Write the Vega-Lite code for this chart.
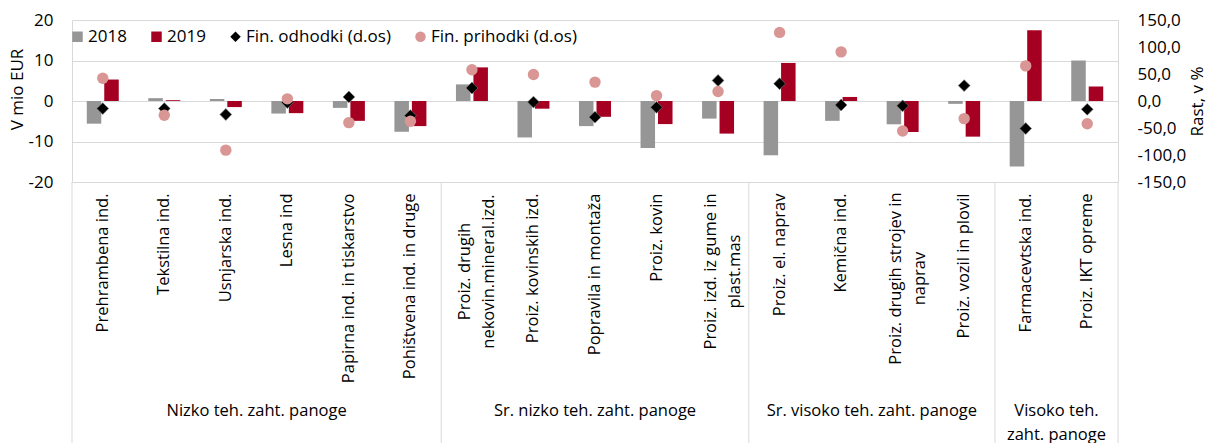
{
  "$schema": "https://vega.github.io/schema/vega-lite/v6.json",
  "width": 1046,
  "height": 162,
  "autosize": {"type": "none"},
  "padding": {"left": 72, "top": 20, "right": 89, "bottom": 261},
  "background": "white",
  "config": {
    "font": "Open Sans",
    "view": {"stroke": null},
    "axis": {"labelColor": "#000000", "titleColor": "#000000", "titleFontWeight": "normal"}
  },
  "datasets": {
    "bars": [
      {"cat": "Prehrambena ind.", "series": "2018", "value": -5.6},
      {"cat": "Prehrambena ind.", "series": "2019", "value": 5.3},
      {"cat": "Tekstilna ind.", "series": "2018", "value": 0.7},
      {"cat": "Tekstilna ind.", "series": "2019", "value": 0.2},
      {"cat": "Usnjarska ind.", "series": "2018", "value": 0.5},
      {"cat": "Usnjarska ind.", "series": "2019", "value": -1.5},
      {"cat": "Lesna ind", "series": "2018", "value": -3.1},
      {"cat": "Lesna ind", "series": "2019", "value": -3.0},
      {"cat": "Papirna ind. in tiskarstvo", "series": "2018", "value": -1.7},
      {"cat": "Papirna ind. in tiskarstvo", "series": "2019", "value": -4.9},
      {"cat": "Pohištvena ind. in druge", "series": "2018", "value": -7.6},
      {"cat": "Pohištvena ind. in druge", "series": "2019", "value": -6.2},
      {"cat": "Proiz. drugih\nnekovin.mineral.izd.", "series": "2018", "value": 4.1},
      {"cat": "Proiz. drugih\nnekovin.mineral.izd.", "series": "2019", "value": 8.3},
      {"cat": "Proiz. kovinskih izd.", "series": "2018", "value": -9.0},
      {"cat": "Proiz. kovinskih izd.", "series": "2019", "value": -1.9},
      {"cat": "Popravila in montaža", "series": "2018", "value": -6.2},
      {"cat": "Popravila in montaža", "series": "2019", "value": -3.9},
      {"cat": "Proiz. kovin", "series": "2018", "value": -11.6},
      {"cat": "Proiz. kovin", "series": "2019", "value": -5.7},
      {"cat": "Proiz. izd. iz gume in\nplast.mas", "series": "2018", "value": -4.35},
      {"cat": "Proiz. izd. iz gume in\nplast.mas", "series": "2019", "value": -8.05},
      {"cat": "Proiz. el. naprav", "series": "2018", "value": -13.4},
      {"cat": "Proiz. el. naprav", "series": "2019", "value": 9.4},
      {"cat": "Kemična ind.", "series": "2018", "value": -4.9},
      {"cat": "Kemična ind.", "series": "2019", "value": 1.0},
      {"cat": "Proiz. drugih strojev in\nnaprav", "series": "2018", "value": -5.75},
      {"cat": "Proiz. drugih strojev in\nnaprav", "series": "2019", "value": -7.65},
      {"cat": "Proiz. vozil in plovil", "series": "2018", "value": -0.7},
      {"cat": "Proiz. vozil in plovil", "series": "2019", "value": -8.8},
      {"cat": "Farmacevtska ind.", "series": "2018", "value": -16.2},
      {"cat": "Farmacevtska ind.", "series": "2019", "value": 17.5},
      {"cat": "Proiz. IKT opreme", "series": "2018", "value": 10.0},
      {"cat": "Proiz. IKT opreme", "series": "2019", "value": 3.55}
    ],
    "points": [
      {"cat": "Prehrambena ind.", "series": "Fin. odhodki (d.os)", "rast": -14},
      {"cat": "Tekstilna ind.", "series": "Fin. odhodki (d.os)", "rast": -14},
      {"cat": "Usnjarska ind.", "series": "Fin. odhodki (d.os)", "rast": -25},
      {"cat": "Lesna ind", "series": "Fin. odhodki (d.os)", "rast": -3},
      {"cat": "Papirna ind. in tiskarstvo", "series": "Fin. odhodki (d.os)", "rast": 7.5},
      {"cat": "Pohištvena ind. in druge", "series": "Fin. odhodki (d.os)", "rast": -27},
      {"cat": "Proiz. drugih\nnekovin.mineral.izd.", "series": "Fin. odhodki (d.os)", "rast": 24},
      {"cat": "Proiz. kovinskih izd.", "series": "Fin. odhodki (d.os)", "rast": -2},
      {"cat": "Popravila in montaža", "series": "Fin. odhodki (d.os)", "rast": -30},
      {"cat": "Proiz. kovin", "series": "Fin. odhodki (d.os)", "rast": -11.7},
      {"cat": "Proiz. izd. iz gume in\nplast.mas", "series": "Fin. odhodki (d.os)", "rast": 38},
      {"cat": "Proiz. el. naprav", "series": "Fin. odhodki (d.os)", "rast": 32},
      {"cat": "Kemična ind.", "series": "Fin. odhodki (d.os)", "rast": -7.4},
      {"cat": "Proiz. drugih strojev in\nnaprav", "series": "Fin. odhodki (d.os)", "rast": -9},
      {"cat": "Proiz. vozil in plovil", "series": "Fin. odhodki (d.os)", "rast": 28.5},
      {"cat": "Farmacevtska ind.", "series": "Fin. odhodki (d.os)", "rast": -51},
      {"cat": "Proiz. IKT opreme", "series": "Fin. odhodki (d.os)", "rast": -15.4},
      {"cat": "Prehrambena ind.", "series": "Fin. prihodki (d.os)", "rast": 42},
      {"cat": "Tekstilna ind.", "series": "Fin. prihodki (d.os)", "rast": -26.5},
      {"cat": "Usnjarska ind.", "series": "Fin. prihodki (d.os)", "rast": -91},
      {"cat": "Lesna ind", "series": "Fin. prihodki (d.os)", "rast": 4},
      {"cat": "Papirna ind. in tiskarstvo", "series": "Fin. prihodki (d.os)", "rast": -40},
      {"cat": "Pohištvena ind. in druge", "series": "Fin. prihodki (d.os)", "rast": -37.5},
      {"cat": "Proiz. drugih\nnekovin.mineral.izd.", "series": "Fin. prihodki (d.os)", "rast": 58},
      {"cat": "Proiz. kovinskih izd.", "series": "Fin. prihodki (d.os)", "rast": 49},
      {"cat": "Popravila in montaža", "series": "Fin. prihodki (d.os)", "rast": 35},
      {"cat": "Proiz. kovin", "series": "Fin. prihodki (d.os)", "rast": 10},
      {"cat": "Proiz. izd. iz gume in\nplast.mas", "series": "Fin. prihodki (d.os)", "rast": 17.5},
      {"cat": "Proiz. el. naprav", "series": "Fin. prihodki (d.os)", "rast": 127},
      {"cat": "Kemična ind.", "series": "Fin. prihodki (d.os)", "rast": 91},
      {"cat": "Proiz. drugih strojev in\nnaprav", "series": "Fin. prihodki (d.os)", "rast": -55.5},
      {"cat": "Proiz. vozil in plovil", "series": "Fin. prihodki (d.os)", "rast": -32.6},
      {"cat": "Farmacevtska ind.", "series": "Fin. prihodki (d.os)", "rast": 65},
      {"cat": "Proiz. IKT opreme", "series": "Fin. prihodki (d.os)", "rast": -42}
    ],
    "groupsEdge": [
      {"group": "Nizko teh. zaht. panoge", "cat": "Usnjarska ind."},
      {"group": "Sr. visoko teh. zaht. panoge", "cat": "Kemična ind."},
      {"group": "Visoko teh.\nzaht. panoge", "cat": "Farmacevtska ind."}
    ],
    "groupsMid": [
      {"group": "Sr. nizko teh. zaht. panoge", "cat": "Popravila in montaža"}
    ],
    "boundsStart": [
      {"cat": "Prehrambena ind."},
      {"cat": "Proiz. drugih\nnekovin.mineral.izd."},
      {"cat": "Proiz. el. naprav"},
      {"cat": "Farmacevtska ind."}
    ],
    "boundsEnd": [
      {"cat": "Proiz. IKT opreme"}
    ]
  },
  "layer": [
    {
      "layer": [
        {
          "data": {"name": "bars"},
          "mark": {"type": "bar"},
          "encoding": {
            "x": {
              "field": "cat", "type": "nominal",
              "scale": {"domain": ["Prehrambena ind.","Tekstilna ind.","Usnjarska ind.","Lesna ind","Papirna ind. in tiskarstvo","Pohištvena ind. in druge","Proiz. drugih\nnekovin.mineral.izd.","Proiz. kovinskih izd.","Popravila in montaža","Proiz. kovin","Proiz. izd. iz gume in\nplast.mas","Proiz. el. naprav","Kemična ind.","Proiz. drugih strojev in\nnaprav","Proiz. vozil in plovil","Farmacevtska ind.","Proiz. IKT opreme"], "paddingInner": 0, "paddingOuter": 0},
              "axis": {"title": null, "labelAngle": -90, "labelAlign": {"condition": {"test": "indexof(datum.value, '\\n') >= 0", "value": "center"}, "value": "right"}, "labelBaseline": "middle", "labelPadding": {"condition": [{"test": "indexof(datum.value, 'strojev') >= 0", "value": 96}, {"test": "indexof(datum.value, '\\n') >= 0", "value": 89}], "value": 11}, "labelOffset": {"condition": {"test": "indexof(datum.value, '\\n') >= 0", "value": -7}, "value": 0}, "ticks": false, "domain": false, "grid": false, "labelFontSize": 16.5, "labelLineHeight": 24, "labelLimit": 400, "labelOverlap": false, "labelExpr": "split(datum.label, '\\n')"}
            },
            "xOffset": {"field": "series", "type": "nominal", "scale": {"domain": ["2018", "2019"], "paddingInner": 0.17, "paddingOuter": 0.845}},
            "y": {
              "field": "value", "type": "quantitative",
              "scale": {"domain": [-20, 20], "nice": false},
              "axis": {
                "orient": "left", "title": "V mio EUR", "titleFontSize": 17, "titlePadding": 2, "titleY": 69,
                "values": [-20, -15, -10, -5, 0, 5, 10, 15, 20], "labelOverlap": false,
                "labelExpr": "toString(datum.value)", "labelFontSize": 17, "labelPadding": 19,
                "ticks": false, "grid": true, "gridColor": "#D9D9D9", "domain": true, "domainColor": "#D9D9D9"
              }
            },
            "color": {
              "field": "series", "type": "nominal",
              "scale": {"domain": ["2018", "2019", "Fin. odhodki (d.os)", "Fin. prihodki (d.os)"], "range": ["#969696", "#A50021", "#000000", "#D99694"]},
              "legend": {"title": null, "orient": "none", "legendX": -3, "legendY": 8, "direction": "horizontal", "columns": 4, "labelFontSize": 17, "labelOffset": 2, "columnPadding": 21, "padding": 0, "symbolSize": 110, "symbolStrokeWidth": 0, "labelColor": "#000000"}
            }
          }
        },
        {
          "data": {"name": "boundsStart"},
          "mark": {"type": "rule", "color": "#D9D9D9", "strokeWidth": 1},
          "encoding": {
            "x": {"field": "cat", "type": "nominal", "bandPosition": 0,
              "scale": {"domain": ["Prehrambena ind.","Tekstilna ind.","Usnjarska ind.","Lesna ind","Papirna ind. in tiskarstvo","Pohištvena ind. in druge","Proiz. drugih\nnekovin.mineral.izd.","Proiz. kovinskih izd.","Popravila in montaža","Proiz. kovin","Proiz. izd. iz gume in\nplast.mas","Proiz. el. naprav","Kemična ind.","Proiz. drugih strojev in\nnaprav","Proiz. vozil in plovil","Farmacevtska ind.","Proiz. IKT opreme"], "paddingInner": 0, "paddingOuter": 0},
              "axis": {"title": null}},
            "y": {"datum": -20},
            "y2": {"datum": -85}
          }
        },
        {
          "data": {"name": "boundsEnd"},
          "mark": {"type": "rule", "color": "#D9D9D9", "strokeWidth": 1},
          "encoding": {
            "x": {"field": "cat", "type": "nominal", "bandPosition": 1,
              "scale": {"domain": ["Prehrambena ind.","Tekstilna ind.","Usnjarska ind.","Lesna ind","Papirna ind. in tiskarstvo","Pohištvena ind. in druge","Proiz. drugih\nnekovin.mineral.izd.","Proiz. kovinskih izd.","Popravila in montaža","Proiz. kovin","Proiz. izd. iz gume in\nplast.mas","Proiz. el. naprav","Kemična ind.","Proiz. drugih strojev in\nnaprav","Proiz. vozil in plovil","Farmacevtska ind.","Proiz. IKT opreme"], "paddingInner": 0, "paddingOuter": 0},
              "axis": {"title": null}},
            "y": {"datum": -20},
            "y2": {"datum": -85}
          }
        },
        {
          "data": {"name": "groupsEdge"},
          "mark": {"type": "text", "align": "center", "baseline": "top", "dy": 221, "fontSize": 16.5, "lineBreak": "\n", "lineHeight": 24, "color": "#000000"},
          "encoding": {
            "x": {"field": "cat", "type": "nominal", "bandPosition": 1,
              "scale": {"domain": ["Prehrambena ind.","Tekstilna ind.","Usnjarska ind.","Lesna ind","Papirna ind. in tiskarstvo","Pohištvena ind. in druge","Proiz. drugih\nnekovin.mineral.izd.","Proiz. kovinskih izd.","Popravila in montaža","Proiz. kovin","Proiz. izd. iz gume in\nplast.mas","Proiz. el. naprav","Kemična ind.","Proiz. drugih strojev in\nnaprav","Proiz. vozil in plovil","Farmacevtska ind.","Proiz. IKT opreme"], "paddingInner": 0, "paddingOuter": 0},
              "axis": {"title": null}},
            "y": {"datum": -20},
            "text": {"field": "group"}
          }
        },
        {
          "data": {"name": "groupsMid"},
          "mark": {"type": "text", "align": "center", "baseline": "top", "dy": 221, "fontSize": 16.5, "lineBreak": "\n", "lineHeight": 24, "color": "#000000"},
          "encoding": {
            "x": {"field": "cat", "type": "nominal", "bandPosition": 0.5,
              "scale": {"domain": ["Prehrambena ind.","Tekstilna ind.","Usnjarska ind.","Lesna ind","Papirna ind. in tiskarstvo","Pohištvena ind. in druge","Proiz. drugih\nnekovin.mineral.izd.","Proiz. kovinskih izd.","Popravila in montaža","Proiz. kovin","Proiz. izd. iz gume in\nplast.mas","Proiz. el. naprav","Kemična ind.","Proiz. drugih strojev in\nnaprav","Proiz. vozil in plovil","Farmacevtska ind.","Proiz. IKT opreme"], "paddingInner": 0, "paddingOuter": 0},
              "axis": {"title": null}},
            "y": {"datum": -20},
            "text": {"field": "group"}
          }
        }
      ]
    },
    {
      "data": {"name": "points"},
      "encoding": {
        "x": {"field": "cat", "type": "nominal",
          "scale": {"domain": ["Prehrambena ind.","Tekstilna ind.","Usnjarska ind.","Lesna ind","Papirna ind. in tiskarstvo","Pohištvena ind. in druge","Proiz. drugih\nnekovin.mineral.izd.","Proiz. kovinskih izd.","Popravila in montaža","Proiz. kovin","Proiz. izd. iz gume in\nplast.mas","Proiz. el. naprav","Kemična ind.","Proiz. drugih strojev in\nnaprav","Proiz. vozil in plovil","Farmacevtska ind.","Proiz. IKT opreme"], "paddingInner": 0, "paddingOuter": 0},
          "axis": {"title": null}},
        "y": {
          "field": "rast", "type": "quantitative",
          "scale": {"domain": [-150, 150], "nice": false},
          "axis": {
            "orient": "right", "title": "Rast, v %", "titleFontSize": 17, "titleAngle": 270, "titleBaseline": "top", "titlePadding": 4,
            "values": [-150, -100, -50, 0, 50, 100, 150], "labelOverlap": false,
            "labelExpr": "toString(datum.value) + ',0'", "labelFontSize": 17, "labelPadding": 19,
            "ticks": false, "grid": false, "domain": true, "domainColor": "#D9D9D9"
          }
        },
        "color": {
          "field": "series", "type": "nominal",
          "scale": {"domain": ["2018", "2019", "Fin. odhodki (d.os)", "Fin. prihodki (d.os)"], "range": ["#969696", "#A50021", "#000000", "#D99694"]},
          "legend": {"title": null, "orient": "none", "legendX": -3, "legendY": 8, "direction": "horizontal", "columns": 4, "labelFontSize": 17, "labelOffset": 2, "columnPadding": 21, "padding": 0, "symbolSize": 110, "symbolStrokeWidth": 0, "labelColor": "#000000"}
        },
        "shape": {
          "field": "series", "type": "nominal",
          "scale": {"domain": ["2018", "2019", "Fin. odhodki (d.os)", "Fin. prihodki (d.os)"], "range": ["square", "square", "diamond", "circle"]},
          "legend": {"title": null, "orient": "none", "legendX": -3, "legendY": 8, "direction": "horizontal", "columns": 4, "labelFontSize": 17, "labelOffset": 2, "columnPadding": 21, "padding": 0, "symbolSize": 110, "symbolStrokeWidth": 0, "labelColor": "#000000"}
        }
      },
      "layer": [
        {
          "transform": [{"filter": "datum.series == 'Fin. odhodki (d.os)'"}],
          "mark": {"type": "point", "filled": true, "opacity": 1, "size": 140, "stroke": "#7f7f7f", "strokeWidth": 0.6}
        },
        {
          "transform": [{"filter": "datum.series == 'Fin. prihodki (d.os)'"}],
          "mark": {"type": "point", "filled": true, "opacity": 1, "size": 130}
        }
      ]
    }
  ],
  "resolve": {"scale": {"y": "independent"}}
}
